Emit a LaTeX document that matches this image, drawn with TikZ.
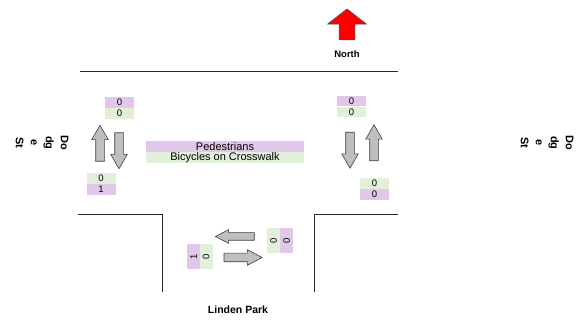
\documentclass[tikz,border=0pt]{standalone}
\usepackage{fontspec}
\setmainfont{Liberation Sans}
\usetikzlibrary{shapes.arrows, positioning}
\definecolor{lilac}{RGB}{225,199,234}
\definecolor{mint}{RGB}{226,239,218}
\definecolor{edge}{RGB}{40,40,40}
\tikzset{
    countbox/.style={minimum width=29pt, minimum height=10.5pt, inner sep=0pt, font=\fontsize{9.5}{10}\selectfont},
    lilacbox/.style={countbox, fill=lilac},
    mintbox/.style={countbox, fill=mint},
    flowarrow/.style={single arrow, draw=black!75, fill=black!25, line width=0.6pt, inner xsep=0pt, inner ysep=4pt,
        minimum height=36pt, single arrow head extend=4pt, single arrow tip angle=60},
    streetname/.style={font=\fontsize{11}{15}\selectfont\bfseries, align=center}
}

\begin{document}
\begin{tikzpicture}[x=1pt, y=-1pt]
    \useasboundingbox (0, 0) rectangle (576, 320);

    % Kerbs
    \draw[edge, line width=1pt] (80, 72) -- (398, 72);
    \draw[edge, line width=1pt] (78, 215) -- (162, 215) -- (162, 292);
    \draw[edge, line width=1pt] (314, 292) -- (314, 215) -- (398, 215);

    % North
    \node[single arrow, draw=black!70, fill=red, line width=0.6pt, inner xsep=0pt, inner ysep=7.5pt, rotate=90,
        minimum height=31pt, single arrow head extend=11.5pt,
        single arrow tip angle=104] (north) at (347, 27.5) {};
    \node[font=\fontsize{9.5}{10}\selectfont\bfseries] (northlabel) at (347, 54) {North};

    % Street names
    \node[streetname, rotate=-90] (dodgeW) at (42, 143) {Do\\dg\\e\\St};
    \node[streetname, rotate=-90] (dodgeE) at (547, 143) {Do\\dg\\e\\St};
    \node[font=\fontsize{10.5}{11}\selectfont\bfseries] (linden) at (238, 310) {Linden Park};

    % Legend
    \node[lilacbox, minimum width=158pt, font=\fontsize{11}{11}\selectfont] (pedestrians) at (225, 146.5) {Pedestrians};
    \node[mintbox, minimum width=158pt, font=\fontsize{11}{11}\selectfont, below=0pt of pedestrians] (bicycles) {Bicycles on Crosswalk};

    % West approach
    \node[lilacbox] (wTopA) at (119.5, 102.5) {0};
    \node[mintbox, below=0pt of wTopA] (wTopB) {0};
    \node[flowarrow, rotate=90] (wUp) at (100, 147) {};
    \node[flowarrow, rotate=-90] (wDown) at (119, 147) {};
    \node[mintbox] (wBotA) at (101, 178.5) {0};
    \node[lilacbox, below=0pt of wBotA] (wBotB) {1};

    % East approach
    \node[lilacbox] (eTopA) at (351.5, 101) {0};
    \node[mintbox, below=0pt of eTopA] (eTopB) {0};
    \node[flowarrow, rotate=-90] (eDown) at (350, 146.5) {};
    \node[flowarrow, rotate=90] (eUp) at (374, 146.5) {};
    \node[mintbox] (eBotA) at (374.5, 183.5) {0};
    \node[lilacbox, below=0pt of eBotA] (eBotB) {0};

    % South approach
    \node[flowarrow, rotate=180, minimum height=39pt, inner ysep=3.5pt, single arrow head extend=3pt,
        single arrow tip angle=54] (sLeft) at (238.5, 236.5) {};
    \node[flowarrow, minimum height=38pt, inner ysep=4pt, single arrow head extend=3.5pt,
        single arrow tip angle=56] (sRight) at (239, 257.5) {};
    \node[mintbox, rotate=90, minimum width=25pt, minimum height=13pt] (sTopA) at (273.5, 240.5) {0};
    \node[lilacbox, rotate=90, minimum width=25pt, minimum height=13pt] (sTopB) at (286.5, 240.5) {0};
    \node[lilacbox, rotate=90, minimum width=25pt, minimum height=13pt] (sBotA) at (193.5, 257) {1};
    \node[mintbox, rotate=90, minimum width=25pt, minimum height=13pt] (sBotB) at (206, 257) {0};
\end{tikzpicture}
\end{document}
